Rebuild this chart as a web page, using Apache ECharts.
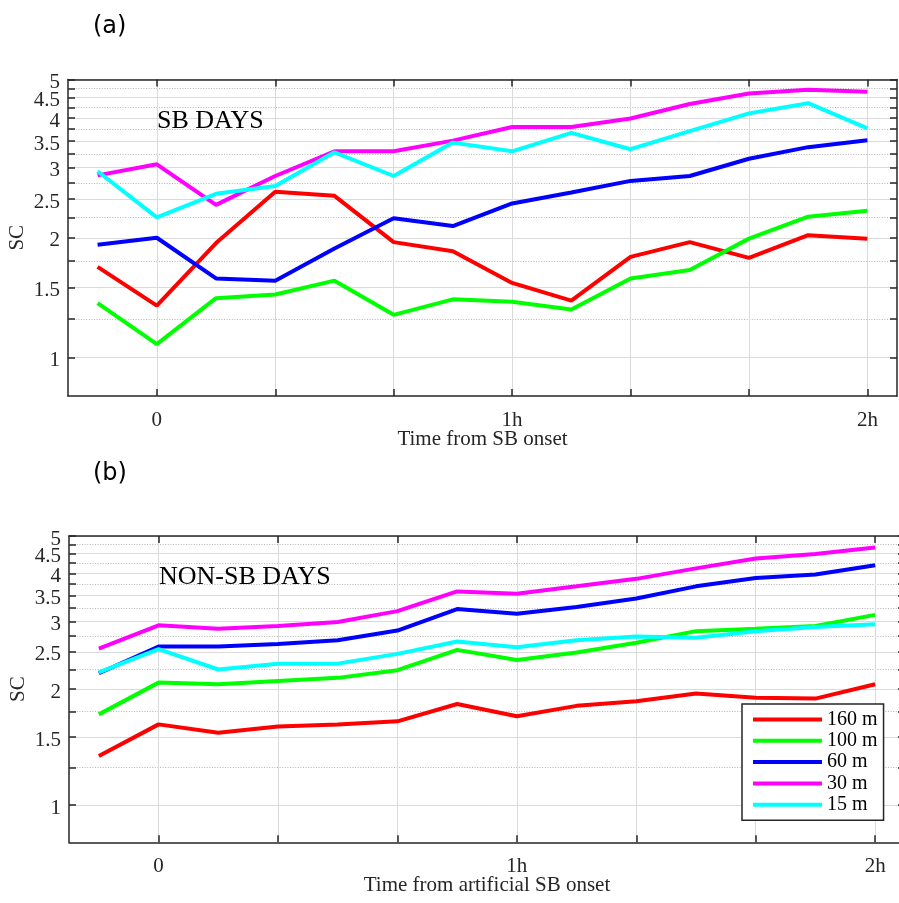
<!DOCTYPE html>
<html><head><meta charset="utf-8">
<script src="https://cdn.jsdelivr.net/npm/echarts@6/dist/echarts.min.js"></script>
<style>html,body{margin:0;padding:0;background:#fff}#c{width:899px;height:903px}</style>
</head><body><div id="c"></div>
<script>
// ---- data ----
const times = [-10, 0, 10, 20, 30, 40, 50, 60, 70, 80, 90, 100, 110, 120]; // minutes from onset
const seriesNames = ['160 m', '100 m', '60 m', '30 m', '15 m'];
const seriesColors = ['#ff0000', '#00ff00', '#0000ff', '#ff00ff', '#00ffff'];

// (a) SB days
const sb160 = [1.69, 1.35, 1.94, 2.61, 2.55, 1.95, 1.85, 1.54, 1.39, 1.79, 1.95, 1.78, 2.03, 1.99];
const sb100 = [1.37, 1.08, 1.41, 1.44, 1.56, 1.28, 1.40, 1.38, 1.32, 1.58, 1.66, 1.99, 2.26, 2.34];
const sb60  = [1.92, 2.00, 1.58, 1.56, 1.88, 2.24, 2.14, 2.44, 2.60, 2.78, 2.86, 3.16, 3.38, 3.52];
const sb30  = [2.87, 3.06, 2.42, 2.86, 3.30, 3.30, 3.51, 3.80, 3.80, 3.99, 4.34, 4.61, 4.71, 4.66];
const sb15  = [2.94, 2.25, 2.58, 2.70, 3.28, 2.86, 3.47, 3.30, 3.67, 3.34, 3.71, 4.11, 4.36, 3.77];

// (b) non-SB days
const ns160 = [1.34, 1.62, 1.54, 1.60, 1.62, 1.65, 1.83, 1.70, 1.81, 1.86, 1.95, 1.90, 1.89, 2.06];
const ns100 = [1.72, 2.08, 2.06, 2.10, 2.14, 2.24, 2.53, 2.38, 2.49, 2.64, 2.83, 2.87, 2.92, 3.12];
const ns60  = [2.20, 2.58, 2.58, 2.62, 2.68, 2.84, 3.23, 3.14, 3.27, 3.44, 3.70, 3.89, 3.97, 4.20];
const ns30  = [2.55, 2.93, 2.87, 2.92, 2.99, 3.19, 3.59, 3.54, 3.70, 3.87, 4.12, 4.37, 4.49, 4.67];
const ns15  = [2.21, 2.54, 2.25, 2.33, 2.33, 2.47, 2.66, 2.57, 2.68, 2.74, 2.72, 2.83, 2.90, 2.95];

// ticks
const yMajor = [1, 1.5, 2, 2.5, 3, 3.5, 4, 4.5, 5];
const yLabelsWhole = [1, 2, 3, 4, 5];
const yLabelsHalf = [1.5, 2.5, 3.5, 4.5];
const yMinor = [1.25, 1.75, 2.25, 2.75, 3.25, 3.75, 4.25, 4.75];
const yAllTicks = [1, 1.25, 1.5, 1.75, 2, 2.25, 2.5, 2.75, 3, 3.25, 3.5, 3.75, 4, 4.25, 4.5, 4.75, 5];
const xTicks = [0, 20, 40, 60, 80, 100, 120];
const xLabelValues = [0, 60, 120];
const xLabelTexts = ['0', '1h', '2h'];

// ---- chart ----
const FONT = 'Liberation Serif';
const AX = '#262626';
const chart = echarts.init(document.getElementById('c'), null, {renderer: 'canvas'});

function xAxes(gi, title) {
  const common = {
    type: 'value', gridIndex: gi, min: -15, max: 125,
    axisLine: {show: true, onZero: false, lineStyle: {color: AX, width: 1.5}},
    axisTick: {show: true, inside: true, length: 7, customValues: xTicks, lineStyle: {color: AX, width: 1.5}}
  };
  return [
    Object.assign({}, common, {
      position: 'bottom',
      axisLabel: {show: true, customValues: xLabelValues, margin: 14, color: AX, fontFamily: FONT, fontSize: 21,
        showMinLabel: true, showMaxLabel: true,
        formatter: v => xLabelTexts[xLabelValues.indexOf(v)]},
      splitLine: {show: true, lineStyle: {color: '#dadada', width: 1}},
      name: title, nameLocation: 'middle', nameGap: 33, nameMoveOverlap: false,
      nameTextStyle: {color: AX, fontFamily: FONT, fontSize: 21}
    }),
    Object.assign({}, common, {
      position: 'top', axisLabel: {show: false}, splitLine: {show: false}
    })
  ];
}

function yLabelStyle(values) {
  return {show: true, customValues: values, margin: 8, color: AX, fontFamily: FONT, fontSize: 21,
    lineHeight: 6, verticalAlign: 'top',
    showMinLabel: true, showMaxLabel: true, hideOverlap: false,
    formatter: v => String(Math.round(v * 100) / 100)};
}

function yAxes(gi) {
  const base = {type: 'log', gridIndex: gi, min: 0.8, max: 5.001, logBase: 10};
  return [
    Object.assign({}, base, {
      position: 'left',
      axisLine: {show: true, onZero: false, lineStyle: {color: AX, width: 1.5}},
      axisTick: {show: true, inside: true, length: 7, customValues: yAllTicks, lineStyle: {color: AX, width: 1.5}},
      axisLabel: yLabelStyle(yLabelsWhole),
      splitLine: {show: false},
      name: 'SC', nameLocation: 'middle', nameGap: 40, nameMoveOverlap: false,
      nameTextStyle: {color: AX, fontFamily: FONT, fontSize: 21}
    }),
    Object.assign({}, base, {
      position: 'right',
      axisLine: {show: true, onZero: false, lineStyle: {color: AX, width: 1.5}},
      axisTick: {show: true, inside: true, length: 7, customValues: yAllTicks, lineStyle: {color: AX, width: 1.5}},
      axisLabel: {show: false}, splitLine: {show: false}
    }),
    Object.assign({}, base, {
      position: 'left',
      axisLine: {show: false},
      axisLabel: yLabelStyle(yLabelsHalf),
      axisTick: {show: false, customValues: yMajor},
      splitLine: {show: true, lineStyle: {color: '#dadada', width: 1}}
    }),
    Object.assign({}, base, {
      position: 'left',
      axisLine: {show: false}, axisLabel: {show: false},
      axisTick: {show: false, customValues: yMinor},
      splitLine: {show: true, lineStyle: {color: '#b4b4b4', width: 1, type: [1, 1.6]}}
    })
  ];
}

function lines(xi, yi, arrays) {
  return arrays.map((arr, k) => ({
    type: 'line', name: seriesNames[k], xAxisIndex: xi, yAxisIndex: yi,
    data: times.map((t, i) => [t, arr[i]]),
    symbol: 'none', showSymbol: false,
    lineStyle: {color: seriesColors[k], width: 4},
    itemStyle: {color: seriesColors[k]},
    emphasis: {disabled: true}, z: 3 + k
  }));
}

const option = {
  animation: false,
  backgroundColor: '#fff',
  grid: [
    {left: 68, top: 79.5, width: 829, height: 316.5, containLabel: false, outerBoundsMode: 'none'},
    {left: 69, top: 536, width: 836, height: 306.3, containLabel: false, outerBoundsMode: 'none'}
  ],
  xAxis: xAxes(0, 'Time from SB onset').concat(xAxes(1, 'Time from artificial SB onset')),
  yAxis: yAxes(0).concat(yAxes(1)),
  legend: {
    data: seriesNames, orient: 'vertical', left: 742, top: 704,
    icon: 'rect', itemWidth: 69, itemHeight: 4, itemGap: 0.3,
    padding: [5, 6, 5, 11],
    backgroundColor: '#fff', borderColor: AX, borderWidth: 1.5,
    selectedMode: false,
    textStyle: {color: '#000', fontFamily: FONT, fontSize: 20, lineHeight: 21}
  },
  graphic: [
    {type: 'text', left: 93, top: 15, style: {text: '(a)', font: '24px "DejaVu Sans"', fill: '#000'}},
    {type: 'text', left: 93, top: 462, style: {text: '(b)', font: '24px "DejaVu Sans"', fill: '#000'}},
    {type: 'text', x: 157, y: 121.5, style: {text: 'SB DAYS', font: '26px "Liberation Serif"', fill: '#000', verticalAlign: 'middle'}, z: 10},
    {type: 'text', x: 159, y: 577, style: {text: 'NON-SB DAYS', font: '26px "Liberation Serif"', fill: '#000', verticalAlign: 'middle'}, z: 10}
  ],
  series: lines(0, 0, [sb160, sb100, sb60, sb30, sb15]).concat(lines(2, 4, [ns160, ns100, ns60, ns30, ns15]))
};
chart.setOption(option);
</script>
</body></html>
